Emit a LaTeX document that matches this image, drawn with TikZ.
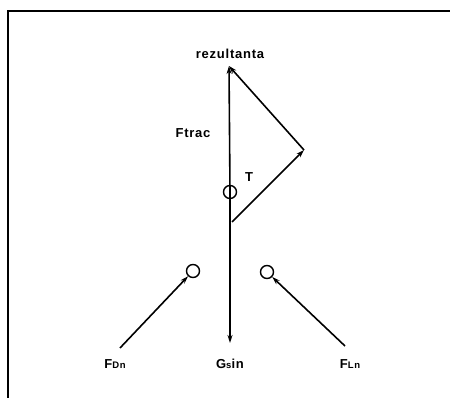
\documentclass[tikz,border=0pt]{standalone}
\usepackage{fontspec}
\setmainfont{Liberation Sans}
\usetikzlibrary{arrows.meta}
\newfontfamily\lblfont[LetterSpace=6]{Liberation Sans Bold}
\begin{document}
\begin{tikzpicture}[x=1pt,y=-1pt,
  vec/.style={line width=1.6pt,-{Stealth[length=8pt,width=5pt]}},
  pt/.style={circle,draw,line width=1.4pt,minimum size=13pt,inner sep=0pt},
  lbl/.style={font=\lblfont\fontsize{13}{14}\selectfont,inner sep=0pt}]
\useasboundingbox (0,0) rectangle (450,398);
\fill[white] (0,0) rectangle (450,398);
% frame
\coordinate (fa) at (8,398);
\coordinate (fb) at (8,11);
\coordinate (fc) at (450,11);
\draw[line width=1.4pt] (fa) -- (fb) -- (fc);
% points
\coordinate (T) at (230,192);
\coordinate (top) at (229,66);
\coordinate (bot) at (230,343);
\coordinate (vx) at (304,150);
\coordinate (base) at (232,222);
\node[pt] (cT) at (T) {};
\node[pt] (cL) at (193,271) {};
\node[pt] (cR) at (267,272) {};
\coordinate (sL) at (120,348);
\coordinate (sR) at (345,346);
% vectors
\draw[vec] (T) -- (top);
\draw[vec] (T) -- (bot);
\draw[vec] (base) -- (vx);
\draw[vec] (vx) -- (top);
\draw[vec] (sL) -- (cL);
\draw[vec] (sR) -- (cR);
% labels
\node[lbl] (rez) at (230,54) {rezultanta};
\node[lbl] (ftr) at (193,133) {Ftrac};
\node[lbl] (tl) at (249,177) {T};
\node[lbl] (fdn) at (115,364) {F{\fontsize{9.5}{10}\selectfont Dn}};
\node[lbl] (gs) at (230,364) {G{\fontsize{9.5}{10}\selectfont s}in};
\node[lbl] (fln) at (350,364) {F{\fontsize{9.5}{10}\selectfont Ln}};
\end{tikzpicture}
\end{document}
